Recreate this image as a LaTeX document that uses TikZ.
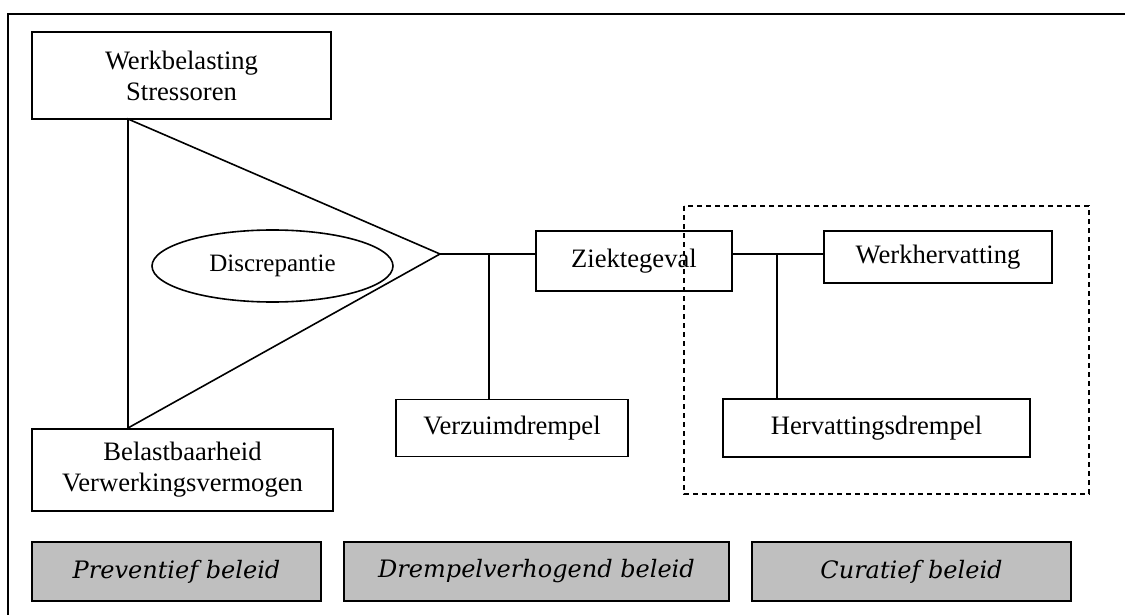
\documentclass[tikz,border=0pt]{standalone}
\usepackage{fontspec}
\setmainfont{Liberation Serif}
\newfontfamily\beleidfont{DejaVu Serif}
\usetikzlibrary{positioning,shapes.geometric}

\begin{document}
\begin{tikzpicture}[x=0.5pt,y=-0.5pt,line width=0.8pt,
  factor/.style={draw,rectangle,align=center,inner sep=1pt,font=\fontsize{13.3}{15.5}\selectfont},
  beleid/.style={draw,rectangle,fill=black!25,minimum height=29.5pt,inner sep=1pt,font=\beleidfont\itshape\fontsize{12}{14}\selectfont}]
\useasboundingbox (0,0) rectangle (1125,615);
\draw[line width=1.1pt] (1125,14) -- (8,14) -- (8,615);
% factors left
\node[factor,minimum width=149.5pt,minimum height=43.5pt] (werk) at (181.5,75.5) {Werkbelasting\\Stressoren};
\node[factor,minimum width=150.5pt,minimum height=41pt] (belast) at (182.5,470) {Belastbaarheid\\Verwerkingsvermogen};
\coordinate (tritop) at (128,119);
\coordinate (tribot) at (128,428);
\coordinate (apex) at (440,254);
\draw (tritop) -- (apex) -- (tribot) -- cycle;
\node[draw,ellipse,minimum width=120.5pt,minimum height=36pt,inner sep=0pt,font=\fontsize{12.5}{15}\selectfont] (disc) at (272.5,266) {Discrepantie};
% middle
\node[factor,minimum width=98pt,minimum height=30pt] (ziekte) at (634,261) {Ziektegeval};
\node[factor,minimum width=116pt,minimum height=28.5pt] (verzuim) at (512,428) {Verzuimdrempel};
\coordinate (j1) at (489,254);
\draw (apex) -- (apex -| ziekte.west);
\draw (j1) -- (j1 |- verzuim.north);
% right
\node[factor,minimum width=114pt,minimum height=26pt] (werkherv) at (938,257) {Werkhervatting};
\node[factor,minimum width=153.5pt,minimum height=29pt] (herv) at (876.5,428) {Hervattingsdrempel};
\coordinate (j2) at (777,254);
\draw (ziekte.east |- apex) -- (werkherv.west |- apex);
\draw (j2) -- (j2 |- herv.north);
\draw[dash pattern=on 2.7pt off 1.8pt] (684,206) rectangle (1089,494);
% policies
\node[beleid,minimum width=144.5pt] (prev) at (176.5,571.5) {Preventief beleid};
\node[beleid,minimum width=192.5pt] (drempel) at (536.5,571.5) {Drempelverhogend beleid};
\node[beleid,minimum width=159.5pt] (curat) at (911.5,571.5) {Curatief beleid};
\end{tikzpicture}
\end{document}
